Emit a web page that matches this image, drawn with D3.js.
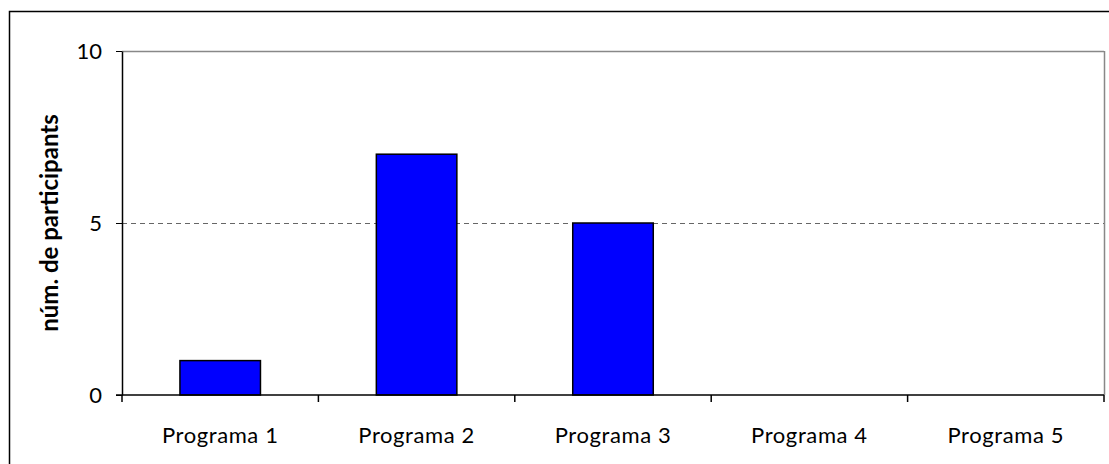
<!DOCTYPE html>
<html>
<head>
<meta charset="utf-8">
<script src="https://cdn.jsdelivr.net/npm/d3@7"></script>
<style>
  body { margin: 0; background: #fff; }
  svg { display: block; font-family: Lato, "Open Sans", sans-serif; }
</style>
</head>
<body>
<svg id="chart" width="1109" height="464"></svg>
<script>
// data
const categories = ["Programa 1", "Programa 2", "Programa 3", "Programa 4", "Programa 5"];
const participants = [1, 7, 5, 0, 0];
const yTicks = [0, 5, 10];

const WIDTH = 1109;
const HEIGHT = 464;
const MARGINS = { top: 51, right: 5, bottom: 69, left: 122 };

const svg = d3.select("#chart");

// outer chart frame (runs past the right/bottom edges)
svg.append("rect")
  .attr("x", 9.5).attr("y", 11.5)
  .attr("width", WIDTH + 10).attr("height", HEIGHT)
  .attr("fill", "none").attr("stroke", "#000").attr("stroke-width", 1.5);

const x = d3.scaleBand()
  .domain(categories)
  .range([MARGINS.left, WIDTH - MARGINS.right])
  .paddingInner(0.59).paddingOuter(0.295);

const xBand = d3.scaleBand()
  .domain(categories)
  .range([MARGINS.left, WIDTH - MARGINS.right]);

const y = d3.scaleLinear()
  .domain([0, 10])
  .range([HEIGHT - MARGINS.bottom, MARGINS.top]);

const plotRight = WIDTH - MARGINS.right;

// plot area: gray top and right edges
svg.append("line")
  .attr("x1", MARGINS.left).attr("x2", plotRight)
  .attr("y1", y(10) + 0.5).attr("y2", y(10) + 0.5)
  .attr("stroke", "#888").attr("stroke-width", 1.5);
svg.append("line")
  .attr("x1", plotRight + 0.5).attr("x2", plotRight + 0.5)
  .attr("y1", y(10)).attr("y2", y(0))
  .attr("stroke", "#888").attr("stroke-width", 1.5);

// dashed gridline at 5
svg.append("g")
  .selectAll("line")
  .data(yTicks.filter(d => d > 0 && d < 10))
  .join("line")
    .attr("x1", MARGINS.left).attr("x2", plotRight)
    .attr("y1", d => Math.round(y(d)) + 0.5).attr("y2", d => Math.round(y(d)) + 0.5)
    .attr("stroke", "#666").attr("stroke-dasharray", "5,4");

// bars
svg.append("g")
  .selectAll("rect")
  .data(participants.map((v, i) => ({ cat: categories[i], v })).filter(d => d.v > 0))
  .join("rect")
    .attr("x", d => x(d.cat))
    .attr("y", d => y(d.v))
    .attr("width", x.bandwidth())
    .attr("height", d => y(0) - y(d.v))
    .attr("fill", "#0000ff")
    .attr("stroke", "#000")
    .attr("stroke-width", 1.5);

// y axis
const yAxis = svg.append("g")
  .attr("transform", `translate(${MARGINS.left},0)`)
  .call(d3.axisLeft(y).tickValues(yTicks).tickSize(6).tickPadding(14).tickSizeOuter(0));
yAxis.select(".domain").attr("stroke", "#000").attr("stroke-width", 1.5);
yAxis.selectAll("text").attr("font-size", 22).attr("fill", "#000")
  .attr("font-family", "Lato, sans-serif");

// x axis: ticks at category boundaries
const xAxis = svg.append("g")
  .attr("transform", `translate(0,${y(0)})`);
xAxis.append("line")
  .attr("x1", MARGINS.left - 6).attr("x2", plotRight)
  .attr("stroke", "#000").attr("stroke-width", 1.5);
xAxis.selectAll(".tick")
  .data(categories.map(c => xBand(c)).concat([plotRight]))
  .join("line")
    .attr("class", "tick")
    .attr("x1", d => d).attr("x2", d => d)
    .attr("y1", 0).attr("y2", 7)
    .attr("stroke", "#000").attr("stroke-width", 1.5);
xAxis.selectAll("text")
  .data(categories)
  .join("text")
    .attr("x", d => xBand(d) + xBand.bandwidth() / 2)
    .attr("y", 48)
    .attr("text-anchor", "middle")
    .attr("font-size", 22)
    .attr("letter-spacing", 0.6)
    .attr("fill", "#000")
    .text(d => d);

// y axis title
svg.append("text")
  .attr("transform", `translate(52,${(y(0) + y(10)) / 2}) rotate(-90)`)
  .attr("text-anchor", "middle")
  .attr("dominant-baseline", "middle")
  .attr("font-size", 24)
  .attr("font-weight", "bold")
  .text("núm. de participants");
</script>
</body>
</html>
